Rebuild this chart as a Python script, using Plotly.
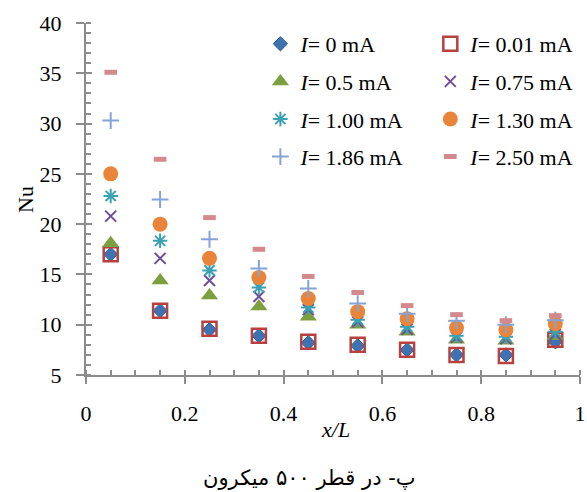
import plotly.graph_objects as go

x_pos = [0.05, 0.15, 0.25, 0.35, 0.45, 0.55, 0.65, 0.75, 0.85, 0.95]

nu_0 = [17.0, 11.4, 9.5, 8.9, 8.2, 7.9, 7.5, 7.0, 7.0, 8.3]
nu_001 = [17.0, 11.4, 9.6, 8.9, 8.3, 8.0, 7.5, 7.0, 6.9, 8.5]
nu_05 = [18.1, 14.4, 12.9, 11.8, 10.8, 10.0, 9.3, 8.5, 8.4, 8.85]
nu_075 = [20.8, 16.6, 14.4, 12.8, 11.5, 10.3, 9.55, 8.75, 8.6, 9.05]
nu_100 = [22.8, 18.35, 15.4, 13.7, 11.7, 10.5, 9.8, 8.9, 8.8, 9.3]
nu_130 = [25.0, 20.0, 16.6, 14.7, 12.6, 11.3, 10.6, 9.7, 9.5, 10.1]
nu_186 = [30.3, 22.45, 18.5, 15.6, 13.6, 12.1, 11.1, 10.4, 10.0, 10.45]
nu_250 = [35.1, 26.45, 20.65, 17.5, 14.8, 13.2, 11.9, 11.0, 10.4, 10.9]

names = ["0", "0.01", "0.5", "0.75", "1.00", "1.30", "1.86", "2.50"]
series = [nu_0, nu_001, nu_05, nu_075, nu_100, nu_130, nu_186, nu_250]

y_ticks = [5, 10, 15, 20, 25, 30, 35, 40]
x_ticks = [0, 0.2, 0.4, 0.6, 0.8, 1]
x_tick_text = ["0", "0.2", "0.4", "0.6", "0.8", "1"]

styles = [
    dict(symbol="diamond", size=11, color="#3E72B0", line=dict(color="#2F5E96", width=1)),
    dict(symbol="square-open", size=14, color="#B8403E", line=dict(color="#B8403E", width=2.5)),
    dict(symbol="triangle-up", size=15, color="#7CA03F", line=dict(color="#7CA03F", width=0)),
    dict(symbol="x-thin", size=11, color="#6E4E96", line=dict(color="#6E4E96", width=2)),
    dict(symbol="asterisk", size=12, color="#3AA0B4", line=dict(color="#3AA0B4", width=2)),
    dict(symbol="circle", size=15, color="#E8853A", line=dict(color="#E8853A", width=0)),
    dict(symbol="cross-thin", size=12, color="#85A3D6", line=dict(color="#85A3D6", width=2)),
    dict(symbol="line-ew", size=9, color="#D48A8C", line=dict(color="#D48A8C", width=5)),
]

FONT = "Liberation Serif, Times New Roman, serif"

fig = go.Figure()
for i, (nm, ys, st) in enumerate(zip(names, series, styles)):
    fig.add_trace(go.Scatter(
        x=x_pos, y=ys, mode="markers",
        name="<i>I</i>= " + nm + " mA",
        marker=st,
        legend="legend" if i % 2 == 0 else "legend2",
        legendgroup="g" + str(i),
    ))

# invisible trace for overlay axes (inside part of crossing major ticks)
fig.add_trace(go.Scatter(x=[None], y=[None], xaxis="x2", yaxis="y2",
                         showlegend=False, hoverinfo="skip"))

axis_color = "#8C8C8C"
fig.update_layout(
    width=587, height=492,
    margin=dict(l=86, r=7, t=23, b=117, autoexpand=False),
    paper_bgcolor="white", plot_bgcolor="white",
    font=dict(family=FONT, size=22, color="black"),
    showlegend=True,
    xaxis=dict(
        range=[0, 1], tickvals=x_ticks, ticktext=x_tick_text, automargin=False,
        showgrid=False, zeroline=False,
        showline=True, linecolor=axis_color, linewidth=2,
        ticks="outside", ticklen=7, tickwidth=2, tickcolor=axis_color,
        ticklabelstandoff=11,
        minor=dict(dtick=0.05, tick0=0, ticks="inside", ticklen=5,
                   tickwidth=1.5, tickcolor=axis_color, showgrid=False),
    ),
    yaxis=dict(
        range=[5, 40], tickvals=y_ticks, automargin=False,
        showgrid=False, zeroline=False,
        showline=True, linecolor=axis_color, linewidth=2,
        ticks="outside", ticklen=8, tickwidth=2, tickcolor=axis_color,
        ticklabelstandoff=10,
        minor=dict(dtick=1, tick0=0, ticks="inside", ticklen=5,
                   tickwidth=1.5, tickcolor=axis_color, showgrid=False),
    ),
    xaxis2=dict(range=[0, 1], overlaying="x", anchor="y", tickvals=x_ticks, automargin=False,
                showticklabels=False, showgrid=False, zeroline=False, showline=False,
                ticks="inside", ticklen=5, tickwidth=2, tickcolor=axis_color),
    yaxis2=dict(range=[5, 40], overlaying="y", anchor="x", tickvals=y_ticks, automargin=False,
                showticklabels=False, showgrid=False, zeroline=False, showline=False,
                ticks="inside", ticklen=6, tickwidth=2, tickcolor=axis_color),
    legend=dict(x=0.353, y=1.0, xanchor="left", yanchor="top",
                bgcolor="rgba(0,0,0,0)", tracegroupgap=6,
                font=dict(family=FONT, size=22, color="black")),
    legend2=dict(x=0.697, y=1.0, xanchor="left", yanchor="top",
                 bgcolor="rgba(0,0,0,0)", tracegroupgap=6,
                 font=dict(family=FONT, size=22, color="black")),
    annotations=[
        dict(text="<i>x/L</i>", x=0.506, y=-0.156, xref="paper", yref="paper",
             xanchor="center", yanchor="middle", showarrow=False,
             font=dict(family=FONT, size=22, color="black")),
        dict(text="Nu", x=-0.1235, y=0.5, xref="paper", yref="paper",
             xanchor="center", yanchor="middle", showarrow=False, textangle=-90,
             font=dict(family=FONT, size=22, color="black")),
        dict(text="پ- در قطر ۵۰۰ میکرون", x=0.452, y=-0.2926, xref="paper", yref="paper",
             xanchor="center", yanchor="middle", showarrow=False,
             font=dict(family="DejaVu Sans, Noto Sans, sans-serif", size=21, color="black")),
    ],
)

fig.write_html("out.html",
               config={"displayModeBar": False},
               post_script="document.body.style.margin='0';document.body.style.overflow='hidden';")
